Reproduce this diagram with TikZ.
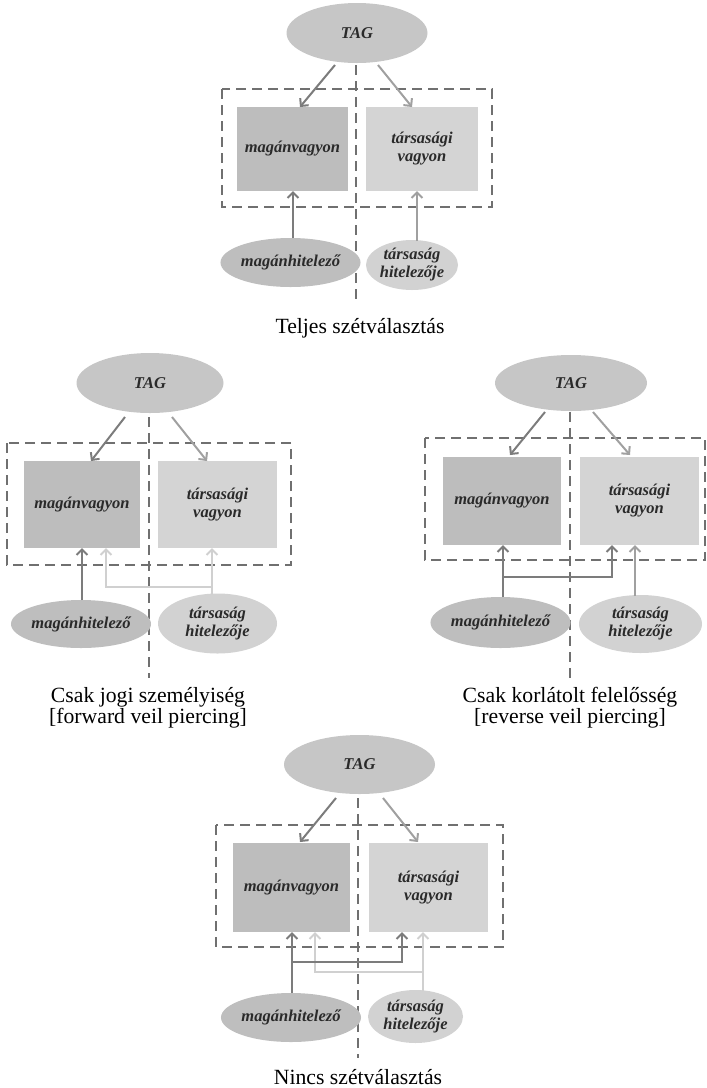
\documentclass[tikz,border=0pt]{standalone}
\usepackage{fontspec}
\setmainfont{Liberation Serif}
\usetikzlibrary{arrows.meta,shapes.geometric,calc}
\definecolor{tagfill}{HTML}{C6C6C6}
\definecolor{privfill}{HTML}{BDBDBD}
\definecolor{corpfill}{HTML}{D4D4D4}
\definecolor{mfill}{HTML}{BEBEBE}
\definecolor{tfill}{HTML}{D2D2D2}
\definecolor{darkc}{HTML}{7C7C7C}
\definecolor{medc}{HTML}{A0A0A0}
\definecolor{lightc}{HTML}{D0D0D0}
\definecolor{dashc}{HTML}{707070}
\definecolor{txt}{HTML}{2A2A2A}
\tikzset{
  every node/.style={inner sep=0pt, outer sep=0pt},
  nodefont/.style={font=\bfseries\itshape\fontsize{16.5}{18}\selectfont, text=txt, align=center},
  tagell/.style={ellipse, fill=tagfill, nodefont},
  privbox/.style={rectangle, fill=privfill, nodefont},
  corpbox/.style={rectangle, fill=corpfill, nodefont},
  mell/.style={ellipse, fill=mfill, nodefont},
  tell/.style={ellipse, fill=tfill, nodefont},
  frame/.style={draw=dashc, line width=2pt, dash pattern=on 10pt off 6pt},
  tip/.style={-{Straight Barb[length=5.5pt,width=11pt]}},
  darr/.style={draw=darkc, line width=2pt, tip},
  marr/.style={draw=medc, line width=2pt, tip},
  larr/.style={draw=lightc, line width=2pt, tip},
  caption/.style={font=\fontsize{21.7}{21}\selectfont, text=black, align=center}
}
\begin{document}
\begin{tikzpicture}[x=1pt, y=-1pt]
\useasboundingbox (0,0) rectangle (707,1088);

%% ---------------- Panel 1: Teljes szétválasztás
\node[tagell, minimum width=141pt, minimum height=60pt] (tag1) at (357,33) {TAG};
\draw[frame] (222,89) rectangle (492,207);
\draw[frame] (356,65) -- (356,300);
\node[privbox, minimum width=111pt, minimum height=84pt] (L1) at (292.5,149) {magánvagyon};
\node[corpbox, minimum width=112pt, minimum height=84pt] (R1) at (422,149) {társasági\\vagyon};
\node[mell, minimum width=115pt, minimum height=49pt] (M1) at (290.5,262.5) {magánhitelező};
\node[tell, minimum width=92pt, minimum height=50pt] (T1) at (412,265) {társaság\\hitelezője};
\draw[darr] ($(tag1)+(-22,32)$) -- ($(L1.north)+(7.5,0)$);
\draw[marr] ($(tag1)+(21,32)$) -- ($(R1.north)+(-10,0)$);
\coordinate (m1s) at ($(M1.north)+(2.5,0)$);
\coordinate (t1s) at ($(T1.north)+(5,1)$);
\draw[darr] (m1s) -- (m1s |- L1.south);
\draw[marr] (t1s) -- (t1s |- R1.south);
\node[caption, anchor=base] (cap1) at (360,333) {Teljes szétválasztás};

%% ---------------- Panel 2: Csak jogi személyiség
\node[tagell, minimum width=147pt, minimum height=60pt] (tag2) at (150,383) {TAG};
\draw[frame] (7,443) rectangle (291,565);
\draw[frame] (149,417) -- (149,678);
\node[privbox, minimum width=116pt, minimum height=87pt] (L2) at (82,504.5) {magánvagyon};
\node[corpbox, minimum width=119pt, minimum height=87pt] (R2) at (217.5,504.5) {társasági\\vagyon};
\node[mell, minimum width=122pt, minimum height=48pt] (M2) at (81,624) {magánhitelező};
\node[tell, minimum width=119pt, minimum height=60pt] (T2) at (217.5,623.5) {társaság\\hitelezője};
\draw[darr] ($(tag2)+(-25,34)$) -- ($(L2.north)+(9,0)$);
\draw[marr] ($(tag2)+(22,34)$) -- ($(R2.north)+(-10.5,0)$);
\coordinate (m2s) at ($(M2.north)+(1,0)$);
\coordinate (t2s) at ($(T2.north)+(-5.5,1)$);
\draw[larr] (t2s) -- (t2s |- R2.south);
\draw[larr] ($(t2s)+(0,-8)$) -| ($(L2.south)+(24,0)$);
\draw[darr] (m2s) -- (m2s |- L2.south);
\node[caption] (cap2) at (148,708) {Csak jogi személyiség\\{[}forward veil piercing{]}};

%% ---------------- Panel 3: Csak korlátolt felelősség
\node[tagell, minimum width=152pt, minimum height=56pt] (tag3) at (571,383) {TAG};
\draw[frame] (425,438) rectangle (705,560);
\draw[frame] (570,412) -- (570,678);
\node[privbox, minimum width=118pt, minimum height=88pt] (L3) at (502,501) {magánvagyon};
\node[corpbox, minimum width=119pt, minimum height=88pt] (R3) at (639.5,501) {társasági\\vagyon};
\node[mell, minimum width=125pt, minimum height=51pt] (M3) at (500.5,622.5) {magánhitelező};
\node[tell, minimum width=123pt, minimum height=58pt] (T3) at (640.5,624) {társaság\\hitelezője};
\draw[darr] ($(tag3)+(-26,29)$) -- ($(L3.north)+(8,-2)$);
\draw[marr] ($(tag3)+(22,29)$) -- ($(R3.north)+(-9.5,-2)$);
\coordinate (m3s) at ($(M3.north)+(2.5,0)$);
\coordinate (t3s) at ($(T3.north)+(-5.5,1)$);
\draw[marr] (t3s) -- (t3s |- R3.south);
\draw[darr] (m3s) -- (m3s |- L3.south);
\draw[darr] ($(m3s)+(0,-20)$) -| ($(R3.south)+(-27.5,0)$);
\node[caption] (cap3) at (570,708) {Csak korlátolt felelősség\\{[}reverse veil piercing{]}};

%% ---------------- Panel 4: Nincs szétválasztás
\node[tagell, minimum width=151pt, minimum height=59pt] (tag4) at (359.5,764.5) {TAG};
\draw[frame] (216,825) rectangle (503,947);
\draw[frame] (358,798) -- (358,1058);
\node[privbox, minimum width=117pt, minimum height=89pt] (L4) at (291.5,887.5) {magánvagyon};
\node[corpbox, minimum width=119pt, minimum height=89pt] (R4) at (428.5,887.5) {társasági\\vagyon};
\node[mell, minimum width=118pt, minimum height=49pt] (M4) at (291,1017.5) {magánhitelező};
\node[tell, minimum width=95pt, minimum height=53pt] (T4) at (415.5,1016.5) {társaság\\hitelezője};
\draw[darr] ($(tag4)+(-23.5,33.5)$) -- ($(L4.north)+(8.5,-1)$);
\draw[marr] ($(tag4)+(23.5,33.5)$) -- ($(R4.north)+(-10.5,-1)$);
\coordinate (m4s) at ($(M4.north)+(1,0)$);
\coordinate (t4s) at ($(T4.north)+(7.5,1)$);
\draw[larr] (t4s) -- (t4s |- R4.south);
\draw[larr] ($(t4s)+(0,-19)$) -| ($(L4.south)+(23.5,0)$);
\draw[darr] (m4s) -- (m4s |- L4.south);
\draw[darr] ($(m4s)+(0,-31)$) -| ($(R4.south)+(-26.5,0)$);
\node[caption, anchor=base] (cap4) at (358,1084) {Nincs szétválasztás};
\end{tikzpicture}
\end{document}
